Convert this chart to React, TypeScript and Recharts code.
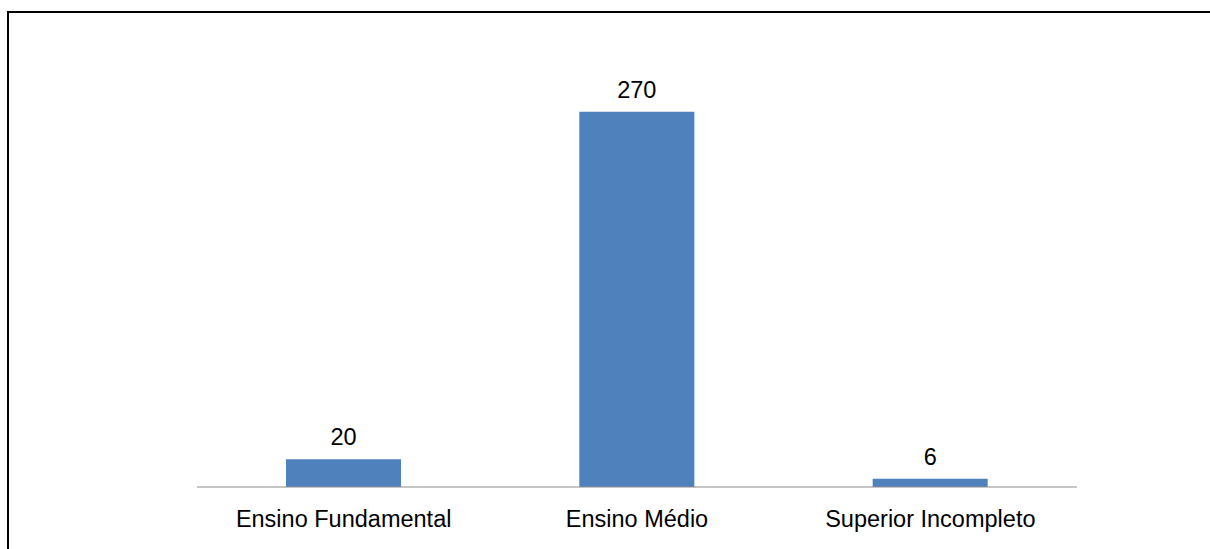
import { BarChart, Bar, XAxis, YAxis, LabelList } from 'recharts';

const BAR_COLOR = '#4f81bd';
const AXIS_COLOR = '#8c8c8c';
const FONT = '"Liberation Sans", Arial, sans-serif';
const FONT_SIZE = 23.5;

const categories = ['Ensino Fundamental', 'Ensino Médio', 'Superior Incompleto'];
const counts = [20, 270, 6];
const yTicks = [0, 300];

const data = categories.map((name, i) => ({ name, value: counts[i] }));

export default function App() {
  return (
    <div
      style={{
        position: 'fixed',
        top: 0,
        left: 0,
        width: 1210,
        height: 549,
        overflow: 'hidden',
        background: '#fff',
      }}
    >
      {/* frame around the chart area, cut off at right and bottom */}
      <div
        style={{
          position: 'absolute',
          left: 7,
          top: 11,
          width: 1240,
          height: 580,
          border: '2px solid #000',
        }}
      />
      <div style={{ position: 'absolute', left: 0, top: 0 }}>
        <BarChart
          width={1210}
          height={549}
          data={data}
          margin={{ top: 70, right: 133, left: 197, bottom: 32 }}
          barCategoryGap={0}
        >
          <YAxis hide domain={[yTicks[0], yTicks[1]]} ticks={yTicks} />
          <XAxis
            dataKey="name"
            height={30}
            stroke={AXIS_COLOR}
            tickLine={false}
            tickSize={0}
            tickMargin={23}
            tick={{ fill: '#000', fontSize: FONT_SIZE, fontFamily: FONT }}
          />
          <Bar dataKey="value" fill={BAR_COLOR} barSize={115} isAnimationActive={false}>
            <LabelList
              dataKey="value"
              position="top"
              offset={14}
              fill="#000"
              fontSize={FONT_SIZE}
              fontFamily={FONT}
            />
          </Bar>
        </BarChart>
      </div>
    </div>
  );
}
